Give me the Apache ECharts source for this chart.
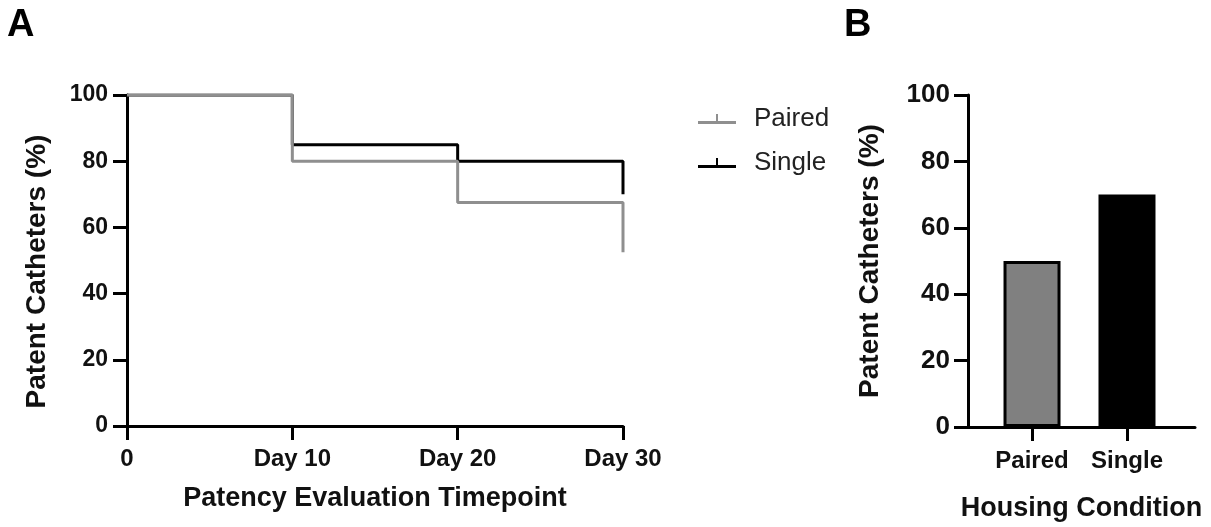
<!DOCTYPE html>
<html>
<head>
<meta charset="utf-8">
<script src="https://cdn.jsdelivr.net/npm/echarts@6/dist/echarts.min.js"></script>
<style>
html, body { margin: 0; padding: 0; background: #fff; }
#chart { width: 1211px; height: 527px; }
</style>
</head>
<body>
<div id="chart"></div>
<script>
/* data */
var days = [0, 10, 20, 30];
var dayLabels = ['0', 'Day 10', 'Day 20', 'Day 30'];
var pairedPatency = [100, 80, 67.5, 52.5];
var singlePatency = [100, 85, 80, 70];
var housing = ['Paired', 'Single'];
var housingPatency = [50, 70];
var housingColors = ['#808080', '#000000'];

var FONT = 'Arial, "Liberation Sans", sans-serif';
var GREY = '#8f8f8f';

function pairs(xs, ys) {
    return xs.map(function (x, i) { return [x, ys[i]]; });
}

var axisLineStyle = { onZero: false, lineStyle: { color: '#000', width: 3 } };
var axisTickStyle = { inside: false, length: 14, lineStyle: { color: '#000', width: 3 } };

var chart = echarts.init(document.getElementById('chart'));
var option = {
    animation: false,
    title: [
        { text: 'A', left: 2, top: 2, textStyle: { fontFamily: FONT, fontSize: 38, fontWeight: 'bold', color: '#000' } },
        { text: 'B', left: 839, top: 2, textStyle: { fontFamily: FONT, fontSize: 38, fontWeight: 'bold', color: '#000' } }
    ],
    legend: {
        data: ['Paired', 'Single'],
        orient: 'vertical',
        left: 693,
        top: 99,
        itemWidth: 38,
        itemHeight: 10,
        itemGap: 14,
        icon: 'path://M0,7 L18,7 L18,0 L20,0 L20,7 L38,7 L38,10 L0,10 Z',
        textStyle: { fontFamily: FONT, fontSize: 26, color: '#222', lineHeight: 30, padding: [0, 0, 0, 13] }
    },
    grid: [
        { left: 127, top: 95, width: 496, height: 331 },
        { left: 968, top: 95, width: 227, height: 334 }
    ],
    xAxis: [{
        gridIndex: 0,
        type: 'value',
        min: 0,
        max: 30,
        interval: 10,
        name: 'Patency Evaluation Timepoint',
        nameLocation: 'middle',
        nameGap: 59,
        nameTextStyle: { fontFamily: FONT, fontSize: 27, fontWeight: 'bold', color: '#111' },
        axisLine: axisLineStyle,
        axisTick: axisTickStyle,
        splitLine: { show: false },
        axisLabel: {
            margin: 21,
            fontFamily: FONT, fontSize: 24, fontWeight: 'bold', color: '#111',
            formatter: function (v) { return dayLabels[days.indexOf(v)]; }
        }
    }, {
        gridIndex: 1,
        type: 'value',
        min: -0.674,
        max: 1.716,
        name: 'Housing Condition',
        nameLocation: 'middle',
        nameGap: 68,
        nameTextStyle: { fontFamily: FONT, fontSize: 27, fontWeight: 'bold', color: '#111' },
        axisLine: axisLineStyle,
        axisTick: { length: 14, lineStyle: { color: '#000', width: 3 }, customValues: [0, 1] },
        splitLine: { show: false },
        axisLabel: {
            margin: 22,
            customValues: [0, 1],
            fontFamily: FONT, fontSize: 24, fontWeight: 'bold', color: '#111',
            formatter: function (v) { return housing[Math.round(v)]; }
        }
    }],
    yAxis: [{
        gridIndex: 0,
        type: 'value',
        min: 0,
        max: 100,
        interval: 20,
        name: 'Patent Catheters (%)',
        nameLocation: 'middle',
        nameRotate: 90,
        nameGap: 76,
        nameTextStyle: { fontFamily: FONT, fontSize: 28, fontWeight: 'bold', color: '#111', padding: [0, 22, 0, 0] },
        axisLine: axisLineStyle,
        axisTick: axisTickStyle,
        splitLine: { show: false },
        axisLabel: { margin: 19, fontFamily: FONT, fontSize: 23, fontWeight: 'bold', color: '#111' }
    }, {
        gridIndex: 1,
        type: 'value',
        min: 0,
        max: 100,
        interval: 20,
        name: 'Patent Catheters (%)',
        nameLocation: 'middle',
        nameRotate: 90,
        nameGap: 84,
        nameTextStyle: { fontFamily: FONT, fontSize: 28, fontWeight: 'bold', color: '#111' },
        axisLine: axisLineStyle,
        axisTick: axisTickStyle,
        splitLine: { show: false },
        axisLabel: { margin: 18, fontFamily: FONT, fontSize: 26, fontWeight: 'bold', color: '#111' }
    }],
    series: [{
        name: 'Single',
        type: 'line',
        xAxisIndex: 0,
        yAxisIndex: 0,
        step: 'end',
        symbol: 'none',
        color: '#000',
        lineStyle: { color: '#000', width: 3 },
        data: pairs(days, singlePatency)
    }, {
        name: 'Paired',
        type: 'line',
        xAxisIndex: 0,
        yAxisIndex: 0,
        step: 'end',
        symbol: 'none',
        color: GREY,
        lineStyle: { color: GREY, width: 3 },
        data: pairs(days, pairedPatency)
    }, {
        name: 'Housing',
        type: 'bar',
        xAxisIndex: 1,
        yAxisIndex: 1,
        barWidth: 57,
        data: housingPatency.map(function (v, i) {
            return {
                value: [i, v],
                itemStyle: { color: housingColors[i], borderColor: '#000', borderWidth: 3 }
            };
        })
    }]
};
chart.setOption(option);
</script>
</body>
</html>
